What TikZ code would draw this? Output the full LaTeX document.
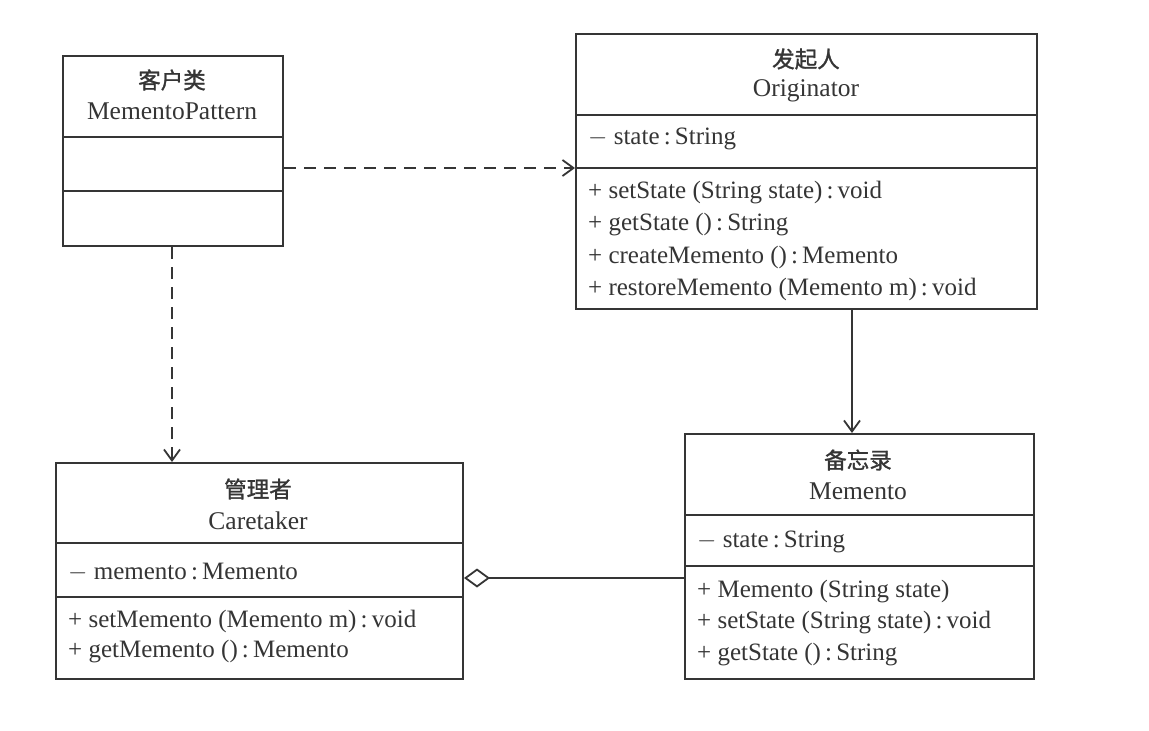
\documentclass[tikz,border=0pt]{standalone}
\usepackage{fontspec}
\setmainfont{Liberation Serif}
\newfontfamily\cjk[FakeBold=1.3]{Noto Sans CJK SC}
\usetikzlibrary{arrows.meta}
\definecolor{ink}{HTML}{353535}
\tikzset{
  box/.style={draw=ink, line width=2pt, anchor=north west, inner sep=0pt},
  divider/.style={draw=ink, line width=2pt},
  title/.style={text=ink, font=\cjk\fontsize{22.5}{26}\selectfont, inner sep=0pt},
  cname/.style={text=ink, font=\fontsize{25.5}{30}\selectfont, inner sep=0pt},
  member/.style={text=ink, font=\fontsize{25}{30}\selectfont, anchor=west, inner sep=0pt},
  dep/.style={draw=ink, line width=1.8pt, dash pattern=on 12pt off 8pt, -{Straight Barb[length=11pt, width=16pt, line width=1.8pt]}},
  assoc/.style={draw=ink, line width=1.8pt, -{Straight Barb[length=11pt, width=16pt, line width=1.8pt]}},
  aggr/.style={draw=ink, line width=1.8pt, -{Diamond[open, length=26pt, width=19pt, line width=1.8pt]}},
}
\begin{document}
\begin{tikzpicture}[x=1pt, y=-1pt]
\useasboundingbox (0,0) rectangle (1149,731);
\fill[white] (0,0) rectangle (1149,731);

% Client
\node[box, minimum width=220pt, minimum height=190pt] (client) at (62,55) {};
\draw[divider] (62,137) -- (282,137);
\draw[divider] (62,191) -- (282,191);
\node[title] (clientT) at (172,80) {客户类};
\node[cname] (clientN) at (172,111) {MementoPattern};

% Originator
\node[box, minimum width=461pt, minimum height=275pt] (orig) at (575,33) {};
\draw[divider] (575,115) -- (1036,115);
\draw[divider] (575,168) -- (1036,168);
\node[title] (origT) at (806,59) {发起人};
\node[cname] (origN) at (806,91) {Originator};
\node[member] (o1) at (588,139) {$-$ state\,:\,String};
\node[member] (o2) at (588,193) {+ setState (String state)\,:\,void};
\node[member] (o3) at (588,225) {+ getState ()\,:\,String};
\node[member] (o4) at (588,257) {+ createMemento ()\,:\,Memento};
\node[member] (o5) at (588,289) {+ restoreMemento (Memento m)\,:\,void};

% Caretaker
\node[box, minimum width=407pt, minimum height=216pt] (care) at (55,462) {};
\draw[divider] (55,543) -- (462,543);
\draw[divider] (55,597) -- (462,597);
\node[title] (careT) at (258,489) {管理者};
\node[cname] (careN) at (258,521) {Caretaker};
\node[member] (c1) at (68,572) {$-$ memento\,:\,Memento};
\node[member] (c2) at (68,621) {+ setMemento (Memento m)\,:\,void};
\node[member] (c3) at (68,652) {+ getMemento ()\,:\,Memento};

% Memento
\node[box, minimum width=349pt, minimum height=245pt] (mem) at (684,433) {};
\draw[divider] (684,515) -- (1033,515);
\draw[divider] (684,566) -- (1033,566);
\node[title] (memT) at (858,460) {备忘录};
\node[cname] (memN) at (858,491) {Memento};
\node[member] (m1) at (697,542) {$-$ state\,:\,String};
\node[member] (m2) at (697,592) {+ Memento (String state)};
\node[member] (m3) at (697,623) {+ setState (String state)\,:\,void};
\node[member] (m4) at (697,655) {+ getState ()\,:\,String};

% Connectors
\coordinate (a1) at (client.east |- 0,168);
\coordinate (a2) at (orig.west |- 0,168);
\draw[dep] (a1) -- (a2);
\coordinate (b1) at (172,245);
\coordinate (b2) at (172,462);
\draw[dep] (client.south -| b1) -- (care.north -| b2);
\draw[assoc] (orig.south -| 852,0) -- (mem.north -| 852,0);
\draw[aggr] (mem.west |- 0,578) -- (care.east |- 0,578);
\end{tikzpicture}
\end{document}
